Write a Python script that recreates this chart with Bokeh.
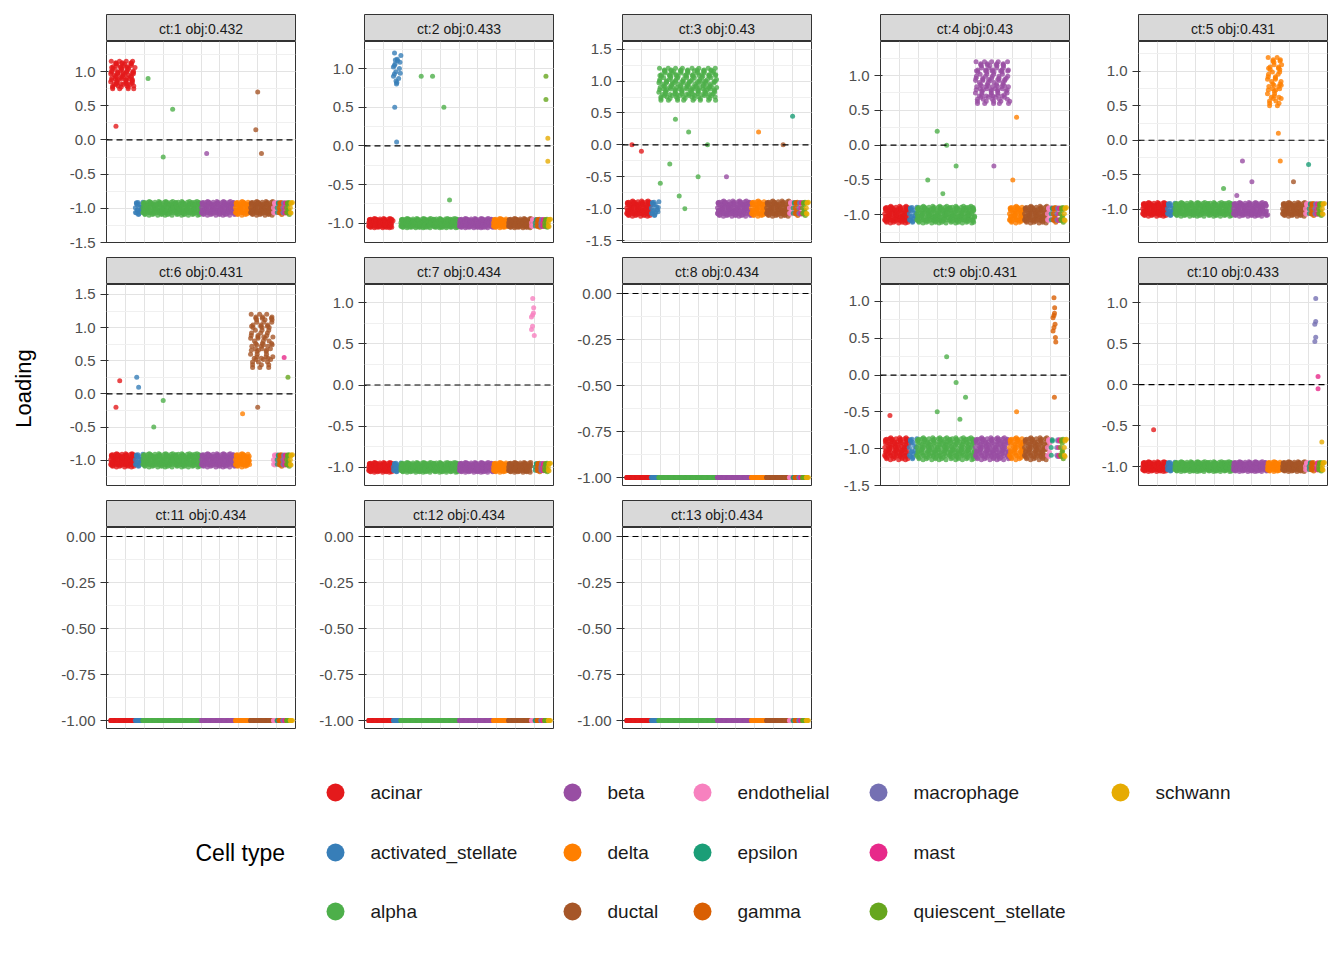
from bokeh.plotting import figure
from bokeh.layouts import row, column, Spacer
from bokeh.models import FixedTicker, Span
from bokeh.embed import file_html
from bokeh.resources import INLINE

cell_types = ["acinar", "activated_stellate", "alpha", "beta", "delta", "ductal",
              "endothelial", "epsilon", "gamma", "macrophage", "mast",
              "quiescent_stellate", "schwann"]
colors = ["#E41A1C", "#377EB8", "#4DAF4A", "#984EA3", "#FF7F00", "#A65628",
          "#F781BF", "#1B9E77", "#D95F02", "#7570B3", "#E7298A", "#66A61E", "#E6AB02"]
# cell index span of each type (fraction of all cells)
span_lo = [0.02, 0.15, 0.19, 0.50, 0.68, 0.76, 0.88, 0.90, 0.91, 0.93, 0.94, 0.95, 0.97]
span_hi = [0.15, 0.19, 0.50, 0.68, 0.76, 0.88, 0.90, 0.91, 0.93, 0.94, 0.95, 0.97, 0.98]
counts = [90, 18, 200, 120, 50, 80, 8, 4, 10, 5, 5, 10, 6]

titles = ["ct:1 obj:0.432", "ct:2 obj:0.433", "ct:3 obj:0.43", "ct:4 obj:0.43",
          "ct:5 obj:0.431", "ct:6 obj:0.431", "ct:7 obj:0.434", "ct:8 obj:0.434",
          "ct:9 obj:0.431", "ct:10 obj:0.433", "ct:11 obj:0.434", "ct:12 obj:0.434",
          "ct:13 obj:0.434"]
y_lo = [-1.5, -1.25, -1.53, -1.4, -1.48, -1.38, -1.22, -1.043, -1.5, -1.23,
        -1.043, -1.043, -1.043]
y_hi = [1.44, 1.35, 1.62, 1.49, 1.43, 1.65, 1.22, 0.049, 1.23, 1.22,
        0.049, 0.049, 0.049]
# cell type with high loading in each panel, its centre and spread
high_type = [0, 1, 2, 3, 4, 5, 6, None, 8, 9, None, None, None]
high_mid = [0.95, 1.0, 0.95, 0.9, 0.85, 0.8, 0.8, 0, 0.75, 0.7, 0, 0, 0]
high_sd = [0.2, 0.2, 0.25, 0.3, 0.35, 0.4, 0.25, 0, 0.3, 0.35, 0, 0, 0]
low_sd = [0.1, 0.06, 0.12, 0.12, 0.1, 0.1, 0.06, 0, 0.15, 0.06, 0, 0, 0]

# scattered outliers: (panel, cell type, x, y)
outliers = [
    (0, 2, 0.22, 0.9), (0, 2, 0.35, 0.45), (0, 2, 0.30, -0.25), (0, 3, 0.53, -0.2),
    (0, 5, 0.80, 0.7), (0, 5, 0.79, 0.15), (0, 5, 0.82, -0.2), (0, 0, 0.05, 0.2),
    (1, 2, 0.30, 0.9), (1, 2, 0.36, 0.9), (1, 2, 0.42, 0.5), (1, 2, 0.45, -0.7),
    (1, 1, 0.17, 0.05), (1, 1, 0.16, 0.5), (1, 11, 0.96, 0.6), (1, 12, 0.97, -0.2),
    (1, 11, 0.96, 0.9), (1, 12, 0.97, 0.1),
    (2, 2, 0.25, -0.3), (2, 2, 0.30, -0.8), (2, 2, 0.35, 0.2), (2, 2, 0.40, -0.5),
    (2, 2, 0.45, 0.0), (2, 2, 0.28, 0.4), (2, 2, 0.33, -1.0), (2, 2, 0.20, -0.6),
    (2, 0, 0.05, 0.0), (2, 0, 0.10, -0.1), (2, 4, 0.72, 0.2), (2, 5, 0.85, 0.0),
    (2, 7, 0.90, 0.45), (2, 3, 0.55, -0.5),
    (3, 2, 0.25, -0.5), (3, 2, 0.30, 0.2), (3, 2, 0.35, 0.0), (3, 2, 0.40, -0.3),
    (3, 2, 0.33, -0.7), (3, 4, 0.72, 0.4), (3, 4, 0.70, -0.5), (3, 3, 0.60, -0.3),
    (4, 3, 0.55, -0.3), (4, 3, 0.60, -0.6), (4, 3, 0.52, -0.8), (4, 2, 0.45, -0.7),
    (4, 4, 0.74, 0.1), (4, 4, 0.75, -0.3), (4, 7, 0.90, -0.35), (4, 5, 0.82, -0.6),
    (5, 0, 0.05, -0.2), (5, 0, 0.07, 0.2), (5, 1, 0.16, 0.25), (5, 1, 0.17, 0.1),
    (5, 2, 0.30, -0.1), (5, 2, 0.25, -0.5), (5, 5, 0.80, -0.2), (5, 4, 0.72, -0.3),
    (5, 10, 0.94, 0.55), (5, 11, 0.96, 0.25),
    (8, 2, 0.35, 0.25), (8, 2, 0.40, -0.1), (8, 2, 0.45, -0.3), (8, 2, 0.30, -0.5),
    (8, 2, 0.42, -0.6), (8, 0, 0.05, -0.55), (8, 4, 0.72, -0.5), (8, 8, 0.92, -0.3),
    (9, 0, 0.08, -0.55), (9, 10, 0.95, 0.1), (9, 10, 0.95, -0.05), (9, 12, 0.97, -0.7),
]

# fixed jitter offsets (read as the shape of the clouds)
jit_y = [0.1, -0.8, 0.6, -0.3, 0.9, -0.6, 0.2, -1.0, 0.5, -0.1, 0.8, -0.5,
         0.3, -0.9, 0.0, 0.7, -0.4, 1.0, -0.2, 0.4, -0.7, 0.15, -0.35, 0.55,
         -0.65, 0.85, -0.15]
jit_x = [0.3, -0.7, 0.1, 0.9, -0.4, 0.6, -0.9, 0.0, 0.5, -0.2, 0.8, -0.6, 0.2,
         -0.1, 0.45, -0.85, 0.75, -0.3, 0.05]

FONT = "Liberation Sans"


def make_strip(k):
    s = figure(width=258, height=27, x_range=(0, 1), y_range=(0, 1),
               output_backend="svg", toolbar_location=None,
               min_border_left=64, min_border_right=5, min_border_top=0,
               min_border_bottom=0)
    s.axis.visible = False
    s.grid.visible = False
    s.background_fill_color = "#d9d9d9"
    s.outline_line_color = "#333333"
    s.text([0.5], [0.45], text=[titles[k]], text_align="center",
           text_baseline="middle", text_font_size="14px",
           text_font={"value": FONT}, text_color="#1a1a1a")
    return s


def make_panel(k):
    lo, hi = y_lo[k], y_hi[k]
    p = figure(width=258, height=216, x_range=(0, 1), y_range=(lo, hi),
               output_backend="svg", toolbar_location=None,
               min_border_left=64, min_border_right=5, min_border_top=0,
               min_border_bottom=15)
    p.outline_line_color = "#333333"
    p.xaxis.visible = False
    p.xgrid.ticker = FixedTicker(ticks=[0.1, 0.2, 0.3, 0.4, 0.5, 0.6, 0.7, 0.8, 0.9])
    p.grid.grid_line_color = "#e3e3e3"
    if hi > 0.5:
        ticks = [t / 2 for t in range(-3, 4) if lo <= t / 2 <= hi]
        labels = {t: "%.1f" % t for t in ticks}
        minor = [t / 4 for t in range(-7, 7)]
    else:
        ticks = [0.0, -0.25, -0.5, -0.75, -1.0]
        labels = {t: "%.2f" % t for t in ticks}
        minor = [t / 8 for t in range(-8, 1)]
    p.yaxis.ticker = FixedTicker(ticks=ticks, minor_ticks=minor)
    p.yaxis.major_label_overrides = labels
    p.yaxis.major_label_text_font = FONT
    p.yaxis.major_label_text_font_size = "15px"
    p.yaxis.major_label_text_color = "#4d4d4d"
    p.yaxis.axis_line_color = None
    p.yaxis.major_tick_line_color = "#333333"
    p.yaxis.minor_tick_line_color = None
    p.ygrid.minor_grid_line_color = "#f0f0f0"

    for c, name in enumerate(cell_types):
        n = counts[c]
        xs, ys = [], []
        for i in range(n):
            f = (i + 0.5) / n
            xs.append(span_lo[c] + (span_hi[c] - span_lo[c]) * f
                      + 0.006 * jit_x[(i * 7) % len(jit_x)])
            if high_type[k] == c:
                ys.append(high_mid[k] + high_sd[k] * jit_y[(i * 11) % len(jit_y)])
            else:
                ys.append(-1.0 + low_sd[k] * jit_y[(i * 5) % len(jit_y)])
        p.scatter(xs, ys, size=5, color=colors[c], alpha=0.8, line_width=0)
    for pk, c, x, y in outliers:
        if pk == k:
            p.scatter([x], [y], size=5, color=colors[c], alpha=0.8, line_width=0)
    p.add_layout(Span(location=0, dimension="width", line_dash="6 4",
                      line_color="black", line_width=1.2))
    return p


cells = [column(make_strip(k), make_panel(k)) for k in range(13)]
grid = column(Spacer(height=14), row(*cells[0:5]), row(*cells[5:10]),
              row(*cells[10:13]))

lab = figure(width=42, height=743, x_range=(0, 1), y_range=(0, 743),
             output_backend="svg", toolbar_location=None, min_border=0)
lab.axis.visible = False
lab.grid.visible = False
lab.outline_line_color = None
lab.text([0.55], [355], text=["Loading"], angle=1.5708, text_align="center",
         text_baseline="middle", text_font_size="22px", text_font={"value": FONT})

# legend
leg_col_x = [335, 572, 702, 878, 1120]
leg_row_y = [-792, -852, -911]
leg = figure(width=1340, height=200, x_range=(0, 1340), y_range=(-943, -743),
             output_backend="svg", toolbar_location=None, min_border=0)
leg.axis.visible = False
leg.grid.visible = False
leg.outline_line_color = None
for c, name in enumerate(cell_types):
    x = leg_col_x[c // 3]
    y = leg_row_y[c % 3]
    leg.scatter([x], [y], size=18, color=colors[c], line_width=0)
    leg.text([x + 35], [y], text=[name], text_baseline="middle",
             text_font_size="19px", text_font={"value": FONT}, text_color="#1a1a1a")
leg.text([195], [-852], text=["Cell type"], text_baseline="middle",
         text_font_size="23px", text_font={"value": FONT})

p = column(row(lab, grid), leg)
open("out.html", "w").write(file_html(p, INLINE))
